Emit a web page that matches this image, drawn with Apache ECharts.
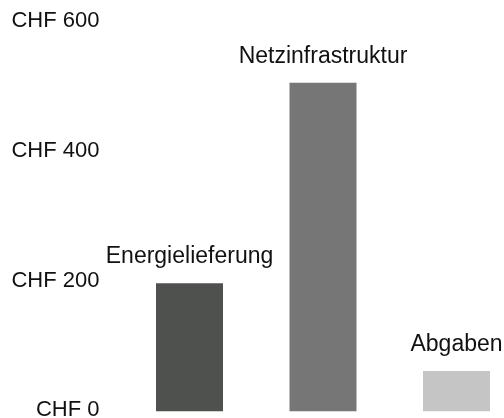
<!DOCTYPE html>
<html><head><meta charset="utf-8">
<script src="https://cdn.jsdelivr.net/npm/echarts@6/dist/echarts.min.js"></script>
<style>html,body{margin:0;padding:0;background:#fff}#c{width:504px;height:418px}</style>
</head><body><div id="c"></div>
<script>
const categories = ['Energielieferung', 'Netzinfrastruktur', 'Abgaben'];
const values = [197, 505, 62];
const barColors = ['#4f514f', '#757675', '#c4c5c4'];
const yTicks = [0, 200, 400, 600];

const chart = echarts.init(document.getElementById('c'), null, {renderer: 'canvas'});
const font = 'Liberation Sans';
chart.setOption({
  animation: false,
  grid: {left: 189.5, width: 267, top: 21, bottom: 6.7, containLabel: false, outerBoundsMode: 'none'},
  xAxis: {
    type: 'category', data: categories, boundaryGap: false,
    axisLine: {show: false}, axisTick: {show: false}, axisLabel: {show: false},
    splitLine: {show: false}
  },
  yAxis: {
    type: 'value', min: yTicks[0], max: yTicks[yTicks.length - 1], interval: 200,
    splitLine: {show: false}, axisLine: {show: false}, axisTick: {show: false},
    axisLabel: {
      margin: 90, color: '#111', fontSize: 22, fontFamily: font,
      formatter: v => v === 0 ? '{z|CHF 0}' : 'CHF ' + v,
      rich: {z: {fontSize: 22, fontFamily: font, color: '#111', padding: [0, 0, 3, 0]}}
    }
  },
  series: [{
    type: 'bar', barWidth: 67, clip: false,
    data: values.map((v, i) => ({value: v, itemStyle: {color: barColors[i]}})),
    label: {
      show: true, position: 'top', distance: 15,
      formatter: p => categories[p.dataIndex],
      color: '#111', fontSize: 23, fontFamily: font
    }
  }]
});
</script></body></html>
